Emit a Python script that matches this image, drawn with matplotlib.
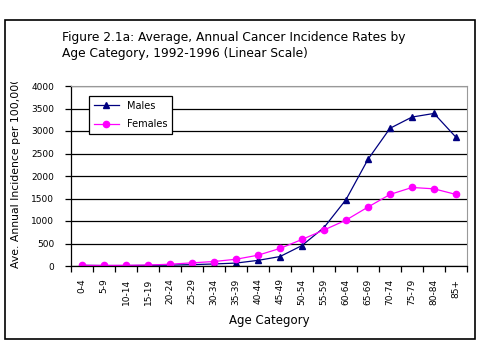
import numpy as np
import matplotlib
matplotlib.use("Agg")
import matplotlib.pyplot as plt
from matplotlib.patches import Rectangle
from matplotlib.transforms import Bbox

# age groups and rates per 100,000
ages = ['0-4', '5-9', '10-14', '15-19', '20-24', '25-29', '30-34', '35-39', '40-44',
        '45-49', '50-54', '55-59', '60-64', '65-69', '70-74', '75-79', '80-84', '85+']
males = [15, 10, 10, 15, 20, 30, 45, 65, 125, 210, 455, 855, 1475, 2370, 3060, 3310, 3390, 2860]
females = [15, 12, 15, 20, 40, 70, 100, 150, 240, 390, 590, 800, 1020, 1310, 1590, 1745, 1715, 1590]
yticks = [0, 500, 1000, 1500, 2000, 2500, 3000, 3500, 4000]

plt.rcParams['font.family'] = 'DejaVu Sans'

fig = plt.figure(figsize=(4.79, 3.59), dpi=100)
W, H = 479, 359
ax = fig.add_axes([71 / W, 1 - 266 / H, (467 - 71) / W, (266 - 86) / H])

x = np.arange(len(ages))
ax.plot(x, males, color='#000080', marker='^', markersize=4.5, lw=0.9, label='Males')
ax.plot(x, females, color='#FF00FF', marker='o', markersize=4.5, lw=0.9, label='Females')

ax.set_xlim(-0.5, len(ages) - 0.5)
ax.set_ylim(0, 4000)
ax.set_yticks(yticks)
ax.set_yticklabels([str(v) for v in yticks], fontsize=6.5)
ax.yaxis.grid(True, color='black', lw=0.9)
ax.set_axisbelow(True)

# tick marks between categories, labels at centres
ax.set_xticks(np.arange(len(ages) + 1) - 0.5)
ax.set_xticklabels([])
ax.set_xticks(x, minor=True)
ax.set_xticklabels(ages, minor=True, rotation=90, fontsize=6.5)
ax.tick_params(axis='x', which='minor', length=0, pad=9)
ax.tick_params(axis='x', which='major', length=4, direction='out', width=0.9)
ax.tick_params(axis='y', length=4, direction='out', width=0.9, pad=8)

ax.spines['top'].set_color('#999999')
ax.spines['right'].set_color('#999999')
ax.spines['left'].set_linewidth(0.9)
ax.spines['bottom'].set_linewidth(0.9)

ax.set_xlabel('Age Category', fontsize=8.5, labelpad=7)

leg = ax.legend(loc='upper left', bbox_to_anchor=(13 / 396, 175 / 180), fontsize=7,
                frameon=True, fancybox=False, edgecolor='black', framealpha=1,
                handlelength=2.6, borderpad=0.5, labelspacing=0.9)
leg.get_frame().set_linewidth(0.9)

fig.text(62 / W, 1 - 37 / H, 'Figure 2.1a: Average, Annual Cancer Incidence Rates by',
         fontsize=8.8, va='center', ha='left')
fig.text(62 / W, 1 - 54 / H, 'Age Category, 1992-1996 (Linear Scale)',
         fontsize=8.8, va='center', ha='left')

yl = fig.text(16 / W, 1 - 268 / H, 'Ave. Annual Incidence per 100,000', rotation=90,
              rotation_mode='anchor', ha='left', va='center', fontsize=7.8)
yl.set_clip_box(Bbox([[0, 0], [W, H - 82]]))
yl.set_clip_on(True)

fig.patches.append(Rectangle((4.5 / W, 1 - 339 / H), 470 / W, 319 / H,
                             transform=fig.transFigure, fill=False, ec='black', lw=1.2))

fig.savefig('out.png', dpi=100)
